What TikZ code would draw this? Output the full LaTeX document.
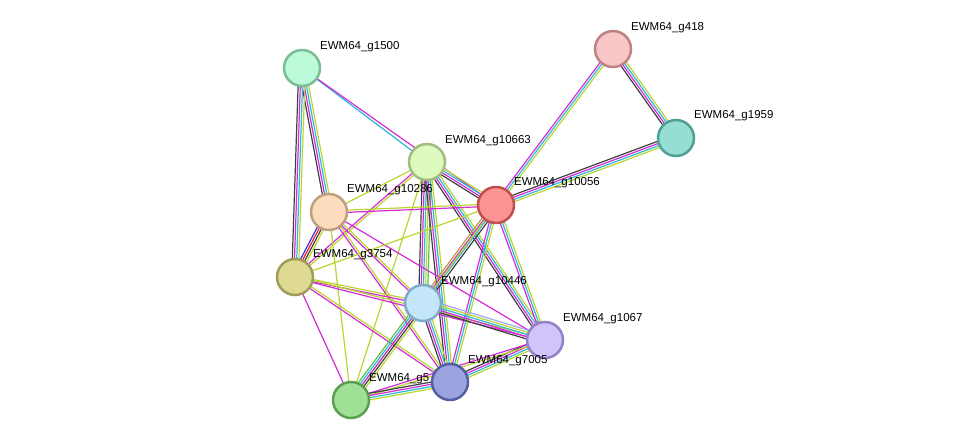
\documentclass[tikz,border=0pt]{standalone}
\usepackage{fontspec}
\setmainfont{Liberation Sans}
\usetikzlibrary{calc}
\definecolor{ek}{HTML}{404040}
\definecolor{em}{HTML}{D42AD8}
\definecolor{ec}{HTML}{2DB8DC}
\definecolor{ey}{HTML}{B8D62E}
\definecolor{eb}{HTML}{3030F0}
\definecolor{er}{HTML}{F02020}
\definecolor{eo}{HTML}{B4A040}
\definecolor{eg}{HTML}{60C040}
\definecolor{el}{HTML}{A0A8F0}
\tikzset{
 prot/.style={circle,minimum size=36pt,inner sep=0pt,line width=2.5pt},
 lab/.style={anchor=west,font=\fontsize{11.5}{11.5}\selectfont,inner sep=0pt},
}
\newcommand{\edg}[4]{% a b n colors
 \foreach \cc [count=\i] in {#4} {
  \pgfmathsetmacro{\off}{(\i-(#3+1)/2)*2.2}
  \draw[\cc,line width=1.2pt] ($(#1)!\off pt!90:(#2)$) -- ($(#2)!\off pt!-90:(#1)$);
 }}
\begin{document}
\begin{tikzpicture}[x=1pt,y=-1pt]
\useasboundingbox (0,0) rectangle (975,446);
\coordinate (a1500) at (302,68);
\coordinate (a418) at (613,49);
\coordinate (a1959) at (676,138);
\coordinate (a10663) at (427,162);
\coordinate (a10056) at (496,205);
\coordinate (a10286) at (329,212);
\coordinate (a3754) at (295,277);
\coordinate (a10446) at (423,303);
\coordinate (a1067) at (545,340);
\coordinate (a7005) at (450,382);
\coordinate (a5) at (351,400);
\edg{a1500}{a10663}{1}{ec}
\edg{a1500}{a10056}{1}{em}
\edg{a1500}{a10286}{4}{ek,em,ec,ey}
\edg{a1500}{a3754}{4}{ek,em,ec,ey}
\edg{a418}{a10056}{3}{em,ec,ey}
\edg{a418}{a1959}{4}{ek,em,ec,ey}
\edg{a1959}{a10056}{4}{ek,em,ec,ey}
\edg{a10663}{a10056}{4}{ek,em,ec,ey}
\edg{a10663}{a10286}{1}{ey}
\edg{a10663}{a3754}{2}{em,ey}
\edg{a10663}{a10446}{5}{ek,em,ec,ey,eg}
\edg{a10663}{a7005}{4}{ek,em,ec,ey}
\edg{a10663}{a1067}{4}{ek,em,ec,ey}
\edg{a10663}{a5}{1}{ey}
\edg{a10286}{a10056}{2}{em,ey}
\edg{a10286}{a3754}{4}{eb,er,ek,ey}
\edg{a10286}{a10446}{2}{em,ey}
\edg{a10286}{a1067}{1}{em}
\edg{a10286}{a7005}{2}{em,ey}
\edg{a10286}{a5}{1}{ey}
\edg{a3754}{a10056}{1}{ey}
\edg{a3754}{a10446}{2}{em,ey}
\edg{a3754}{a1067}{2}{em,ey}
\edg{a3754}{a7005}{2}{em,ey}
\edg{a3754}{a5}{1}{em}
\edg{a10056}{a10446}{4}{eo,em,ec,ek}
\edg{a10056}{a1067}{3}{em,ec,ey}
\edg{a10056}{a7005}{3}{em,ec,ey}
\edg{a10056}{a5}{1}{ey}
\edg{a10446}{a1067}{5}{ek,em,ec,ey,el}
\edg{a10446}{a7005}{4}{ek,em,ec,ey}
\edg{a10446}{a5}{5}{eg,ec,em,ek,ey}
\edg{a1067}{a7005}{4}{ek,em,ec,ey}
\edg{a1067}{a5}{2}{em,ey}
\edg{a7005}{a5}{4}{ek,em,ec,ey}
\node[prot,fill={rgb,255:red,188;green,250;blue,218},draw={rgb,255:red,122;green,190;blue,150}] (n1500) at (a1500) {};
\node[prot,fill={rgb,255:red,248;green,198;blue,198},draw={rgb,255:red,190;green,130;blue,130}] (n418) at (a418) {};
\node[prot,fill={rgb,255:red,150;green,222;blue,212},draw={rgb,255:red,80;green,160;blue,148}] (n1959) at (a1959) {};
\node[prot,fill={rgb,255:red,222;green,250;blue,190},draw={rgb,255:red,160;green,190;blue,130}] (n10663) at (a10663) {};
\node[prot,fill={rgb,255:red,252;green,148;blue,148},draw={rgb,255:red,190;green,80;blue,80}] (n10056) at (a10056) {};
\node[prot,fill={rgb,255:red,252;green,220;blue,188},draw={rgb,255:red,190;green,160;blue,128}] (n10286) at (a10286) {};
\node[prot,fill={rgb,255:red,222;green,218;blue,148},draw={rgb,255:red,160;green,156;blue,90}] (n3754) at (a3754) {};
\node[prot,fill={rgb,255:red,196;green,230;blue,250},draw={rgb,255:red,130;green,170;blue,196}] (n10446) at (a10446) {};
\node[prot,fill={rgb,255:red,210;green,196;blue,250},draw={rgb,255:red,150;green,130;blue,200}] (n1067) at (a1067) {};
\node[prot,fill={rgb,255:red,160;green,224;blue,150},draw={rgb,255:red,90;green,160;blue,80}] (n5) at (a5) {};
\node[lab] (l1500) at (320,47) {EWM64\_g1500};
\node[lab] (l418) at (631,28) {EWM64\_g418};
\node[lab] (l1959) at (694,116) {EWM64\_g1959};
\node[lab] (l10663) at (445,141) {EWM64\_g10663};
\node[lab] (l10056) at (514,183) {EWM64\_g10056};
\node[lab] (l10286) at (347,190) {EWM64\_g10286};
\node[lab] (l3754) at (313,255) {EWM64\_g3754};
\node[lab] (l10446) at (441,282) {EWM64\_g10446};
\node[lab] (l1067) at (563,319) {EWM64\_g1067};
\node[lab] (l5) at (369,379) {EWM64\_g5};
\node[prot,fill={rgb,255:red,156;green,164;blue,224},draw={rgb,255:red,84;green,96;blue,160}] (n7005) at (a7005) {};
\node[lab] (l7005) at (468,361) {EWM64\_g7005};
\end{tikzpicture}
\end{document}
